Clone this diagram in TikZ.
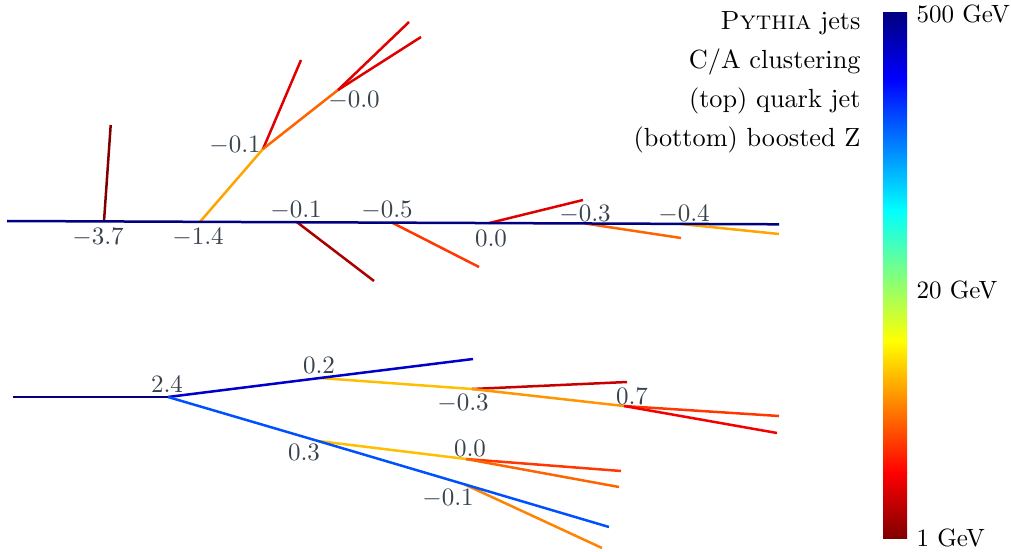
\documentclass[tikz,border=0pt]{standalone}
\usepackage{amsmath}
\usetikzlibrary{positioning,calc}

\definecolor{labgray}{RGB}{55,66,77}
% jet colour map stops
\definecolor{jetdb}{RGB}{0,0,128}
\definecolor{jetb}{RGB}{0,0,255}
\definecolor{jetc}{RGB}{0,255,255}
\definecolor{jety}{RGB}{255,255,0}
\definecolor{jetr}{RGB}{255,0,0}
\definecolor{jetdr}{RGB}{128,0,0}
% branch colours
\definecolor{maroon}{RGB}{128,0,0}
\definecolor{darkred}{RGB}{170,0,0}
\definecolor{crimson}{RGB}{200,0,0}
\definecolor{redA}{RGB}{225,0,0}
\definecolor{redB}{RGB}{245,0,0}
\definecolor{redorange}{RGB}{255,55,0}
\definecolor{orangeA}{RGB}{255,100,0}
\definecolor{orangeB}{RGB}{255,130,0}
\definecolor{orangeC}{RGB}{255,150,0}
\definecolor{orangeD}{RGB}{255,165,0}
\definecolor{gold}{RGB}{255,190,0}
\definecolor{midblue}{RGB}{0,0,205}
\definecolor{brightblue}{RGB}{0,80,255}

\begin{document}
\begin{tikzpicture}[
  x=0.4pt,y=-0.4pt,
  branch/.style={draw=#1,line width=1pt},
  val/.style={text=labgray,inner sep=0pt},
  info/.style={anchor=base east,inner sep=0pt,font=\fontsize{10.5pt}{12pt}\selectfont},
  tick/.style={anchor=base west,inner sep=0pt},
]
\useasboundingbox (0,0) rectangle (1011,552);

% === TOP TREE: quark jet ===
\coordinate (t0) at (7,221);
\coordinate (t1) at (104,221.4);
\coordinate (t2) at (200,221.8);
\coordinate (t3) at (297,222.2);
\coordinate (t4) at (392,222.6);
\coordinate (t5) at (489,223.1);
\coordinate (t6) at (585,223.5);
\coordinate (t7) at (680,223.9);
\coordinate (tE) at (779,224.3);

\coordinate (u1) at (263,149);
\coordinate (u2) at (338,90);

\coordinate (t1a) at (110.7,125);
\coordinate (u1a) at (301,60);
\coordinate (u2a) at (409,22);
\coordinate (u2b) at (421,37);
\coordinate (t3a) at (374,281);
\coordinate (t4a) at (479,267);
\coordinate (t5a) at (583,200);
\coordinate (t6a) at (681,238);
\coordinate (t7a) at (779,234);

\draw[branch=maroon] (t1) -- (t1a);
\draw[branch=orangeD] (t2) -- (u1);
\draw[branch=redA] (u1) -- (u1a);
\draw[branch=orangeA] (u1) -- (u2);
\draw[branch=redA] (u2) -- (u2a);
\draw[branch=redA] (u2) -- (u2b);
\draw[branch=darkred] (t3) -- (t3a);
\draw[branch=redorange] (t4) -- (t4a);
\draw[branch=redA] (t5) -- (t5a);
\draw[branch=orangeA] (t6) -- (t6a);
\draw[branch=orangeD] (t7) -- (t7a);
\draw[branch=jetdb] (t0) -- (tE);

\node[val] (l37) at (98,237) {$-3.7$};
\node[val] (l14) at (198,237) {$-1.4$};
\node[val] (l01u) at (235,145) {$-0.1$};
\node[val] (l00u) at (354,100) {$-0.0$};
\node[val] (l01) at (296,210) {$-0.1$};
\node[val] (l05) at (387,210) {$-0.5$};
\node[val] (l00) at (491,238) {$0.0$};
\node[val] (l03) at (585,214) {$-0.3$};
\node[val] (l04) at (684,214) {$-0.4$};

% === BOTTOM TREE: boosted Z ===
\coordinate (b0) at (13,397);
\coordinate (b1) at (168,397);
\coordinate (b2) at (320,378);
\coordinate (b2E) at (473,359);
\coordinate (b3) at (318,441);
\coordinate (b3E) at (609,527);
\coordinate (b4) at (472,389);
\coordinate (b4a) at (627,382);
\coordinate (b5) at (624,406);
\coordinate (b5a) at (779,416);
\coordinate (b5b) at (777,433);
\coordinate (b6) at (466,459);
\coordinate (b6a) at (621,471);
\coordinate (b6b) at (619,487);
\coordinate (b7) at (465,484.6);
\coordinate (b7a) at (602,548);

\draw[branch=gold] (b2) -- (b4);
\draw[branch=crimson] (b4) -- (b4a);
\draw[branch=orangeC] (b4) -- (b5);
\draw[branch=redorange] (b5) -- (b5a);
\draw[branch=redB] (b5) -- (b5b);
\draw[branch=gold] (b3) -- (b6);
\draw[branch=redorange] (b6) -- (b6a);
\draw[branch=orangeA] (b6) -- (b6b);
\draw[branch=orangeB] (b7) -- (b7a);
\draw[branch=midblue] (b1) -- (b2) -- (b2E);
\draw[branch=brightblue] (b1) -- (b3) -- (b3E);
\draw[branch=jetdb] (b0) -- (b1);

\node[val] (l24) at (167,384) {$2.4$};
\node[val] (l02) at (319,365) {$0.2$};
\node[val] (l03b) at (304,452) {$0.3$};
\node[val] (lm03) at (463,403) {$-0.3$};
\node[val] (l07) at (632,396) {$0.7$};
\node[val] (l00b) at (470,448) {$0.0$};
\node[val] (lm01) at (448,498) {$-0.1$};

% === LEGEND TEXT ===
\node[info] (i1) at (861,30) {\textsc{Pythia} jets};
\node[info] (i2) at (861,69) {C/A clustering};
\node[info] (i3) at (861,108) {(top) quark jet};
\node[info] (i4) at (861,147) {(bottom) boosted Z};

% === COLOUR BAR ===
\foreach \ya/\yb/\ca/\cb in {13/79/jetdb/jetb, 78.6/210.4/jetb/jetc,
    209.9/341.6/jetc/jety, 341.1/472.9/jety/jetr, 472.4/538/jetr/jetdr}
  \shade[top color=\ca,bottom color=\cb] (883,\ya) rectangle (907,\yb);

\node[tick] (g500) at (916,23) {500 GeV};
\node[tick] (g20) at (916,298) {20 GeV};
\node[tick] (g1) at (916,546) {1 GeV};

\end{tikzpicture}
\end{document}
